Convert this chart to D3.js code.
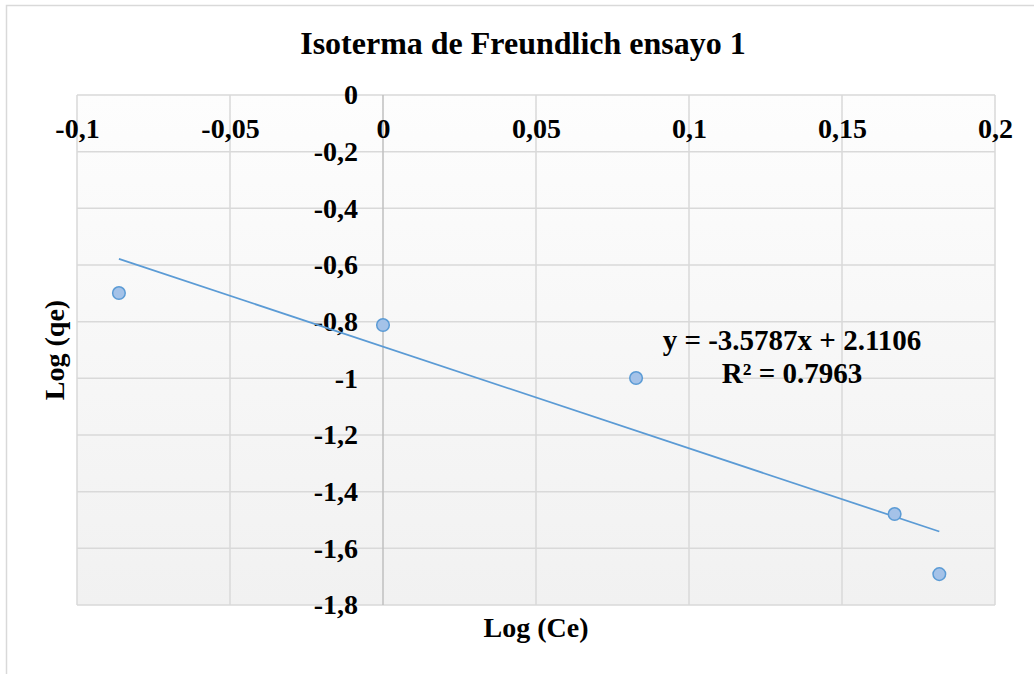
<!DOCTYPE html>
<html>
<head>
<meta charset="utf-8">
<script src="https://cdn.jsdelivr.net/npm/d3@7/dist/d3.min.js"></script>
<style>
  body { margin: 0; background: #fff; }
  text { font-family: "Liberation Serif", "Times New Roman", serif; font-weight: bold; fill: #000; }
</style>
</head>
<body>
<script>
// data
const logCe = [-0.0863, 0, 0.0827, 0.1672, 0.1818];
const logQe = [-0.699, -0.812, -0.999, -1.479, -1.691];
const xTicks = [-0.1, -0.05, 0, 0.05, 0.1, 0.15, 0.2];
const yTicks = [0, -0.2, -0.4, -0.6, -0.8, -1, -1.2, -1.4, -1.6, -1.8];
const chartTitle = "Isoterma de Freundlich ensayo 1";
const eqLine1 = "y = -3.5787x + 2.1106";
const eqLine2 = "R² = 0.7963";

const W = 1034, H = 674;
const plot = { left: 77, right: 995, top: 95, bottom: 605 };

const svg = d3.select("body").append("svg")
    .attr("width", W)
    .attr("height", H);

const x = d3.scaleLinear().domain([-0.1, 0.2]).range([plot.left, plot.right]);
const y = d3.scaleLinear().domain([-1.8, 0]).range([plot.bottom, plot.top]);
const fmt = d => String(d).replace(".", ",");

// chart frame
svg.append("rect")
    .attr("x", 6.5).attr("y", 5.5)
    .attr("width", 1100).attr("height", 700)
    .attr("fill", "#fff")
    .attr("stroke", "#d9d9d9")
    .attr("stroke-width", 1.5);

// plot background gradient
const grad = svg.append("defs").append("linearGradient")
    .attr("id", "bg").attr("x1", 0).attr("y1", 0).attr("x2", 0).attr("y2", 1);
grad.append("stop").attr("offset", "0%").attr("stop-color", "#fdfdfd");
grad.append("stop").attr("offset", "100%").attr("stop-color", "#f1f1f1");

svg.append("rect")
    .attr("x", plot.left).attr("y", plot.top)
    .attr("width", plot.right - plot.left)
    .attr("height", plot.bottom - plot.top)
    .attr("fill", "url(#bg)");

// gridlines
svg.append("g").selectAll("line")
    .data(yTicks)
    .enter().append("line")
    .attr("x1", plot.left).attr("x2", plot.right)
    .attr("y1", d => y(d)).attr("y2", d => y(d))
    .attr("stroke", "#d9d9d9")
    .attr("stroke-width", 1.5);

svg.append("g").selectAll("line")
    .data(xTicks)
    .enter().append("line")
    .attr("x1", d => x(d)).attr("x2", d => x(d))
    .attr("y1", plot.top).attr("y2", plot.bottom)
    .attr("stroke", d => d === 0 ? "#bfbfbf" : "#d9d9d9")
    .attr("stroke-width", 1.5);

// axes (labels only; lines drawn above)
const xAxis = svg.append("g")
    .attr("transform", "translate(0," + y(0) + ")")
    .call(d3.axisBottom(x).tickValues(xTicks).tickFormat(fmt).tickSize(0).tickPadding(23));
const yAxis = svg.append("g")
    .attr("transform", "translate(" + x(0) + ",0)")
    .call(d3.axisLeft(y).tickValues(yTicks).tickFormat(fmt).tickSize(0).tickPadding(25));
[xAxis, yAxis].forEach(a => {
    a.select(".domain").remove();
    a.selectAll("text")
        .style("font-family", "'Liberation Serif', 'Times New Roman', serif")
        .style("font-weight", "bold")
        .style("font-size", "28px")
        .attr("fill", "#000");
});

// linear trendline from least squares
const mx = d3.mean(logCe), my = d3.mean(logQe);
const sxy = d3.sum(logCe, (v, i) => (v - mx) * (logQe[i] - my));
const sxx = d3.sum(logCe, v => (v - mx) * (v - mx));
const slope = sxy / sxx;
const intercept = my - slope * mx;
const xr = d3.extent(logCe);

svg.append("line")
    .attr("x1", x(xr[0])).attr("y1", y(slope * xr[0] + intercept))
    .attr("x2", x(xr[1])).attr("y2", y(slope * xr[1] + intercept))
    .attr("stroke", "#5b9bd5")
    .attr("stroke-width", 1.75);

// points
svg.append("g").selectAll("circle")
    .data(logCe)
    .enter().append("circle")
    .attr("cx", d => x(d))
    .attr("cy", (d, i) => y(logQe[i]))
    .attr("r", 6.3)
    .attr("fill", "#a4c2e8")
    .attr("stroke", "#5b9bd5")
    .attr("stroke-width", 1.5);

// equation
svg.append("text")
    .attr("x", 792).attr("y", 350)
    .attr("text-anchor", "middle")
    .style("font-size", "29px")
    .text(eqLine1);
svg.append("text")
    .attr("x", 792).attr("y", 383)
    .attr("text-anchor", "middle")
    .style("font-size", "29px")
    .text(eqLine2);

// titles
svg.append("text")
    .attr("x", 523).attr("y", 54)
    .attr("text-anchor", "middle")
    .style("font-size", "32px")
    .text(chartTitle);

svg.append("text")
    .attr("x", (plot.left + plot.right) / 2).attr("y", 637)
    .attr("text-anchor", "middle")
    .style("font-size", "28px")
    .text("Log (Ce)");

svg.append("text")
    .attr("transform", "translate(64," + (plot.top + plot.bottom) / 2 + ") rotate(-90)")
    .attr("text-anchor", "middle")
    .style("font-size", "28px")
    .text("Log (qe)");
</script>
</body>
</html>
